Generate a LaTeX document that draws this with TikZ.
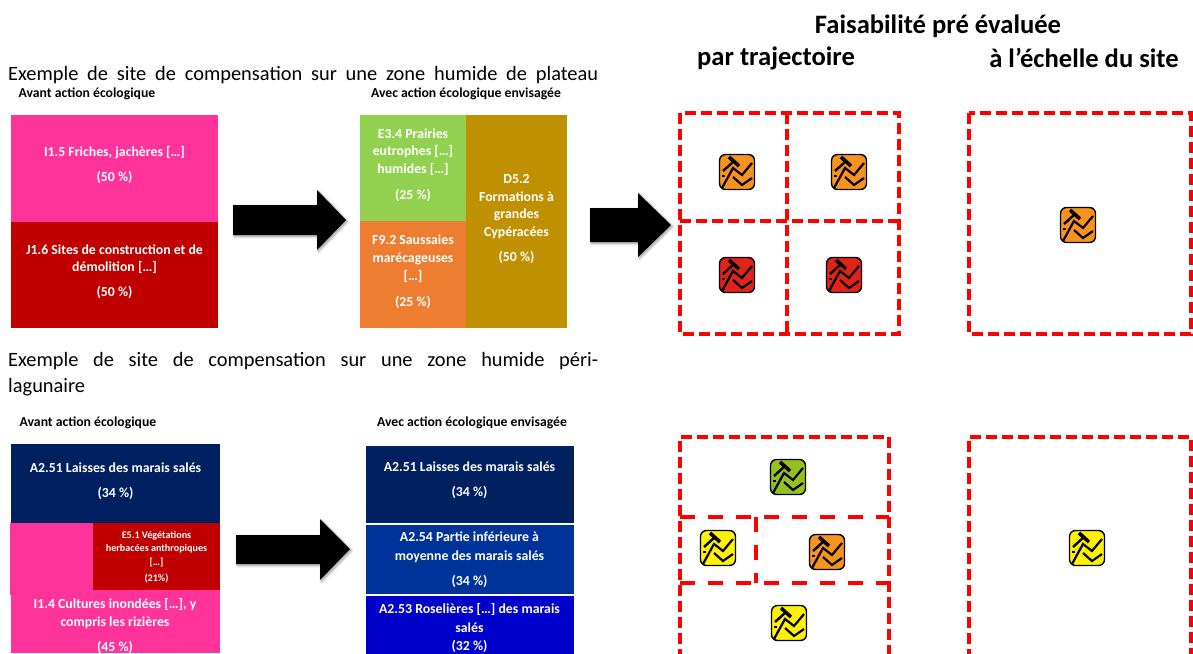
\documentclass[tikz,border=0pt]{standalone}
\usepackage{fontspec}
\setmainfont{Carlito}
\usetikzlibrary{shadows.blur}
\definecolor{pinkz}{HTML}{FF3399}
\definecolor{redz}{HTML}{C00000}
\definecolor{greenz}{HTML}{92D050}
\definecolor{orangez}{HTML}{ED7D31}
\definecolor{goldz}{HTML}{BF9000}
\definecolor{navyz}{HTML}{002060}
\definecolor{bluez}{HTML}{003399}
\definecolor{royalz}{HTML}{0000CC}
\definecolor{icoOrange}{HTML}{F7931E}
\definecolor{icoRed}{HTML}{E2231A}
\definecolor{icoGreen}{HTML}{95C11F}
\definecolor{icoYellow}{HTML}{FFF200}
\definecolor{frameRed}{HTML}{FF0000}
\newcommand{\fullline}[1]{\hbox to 590pt{\spaceskip=4pt plus 1fil\relax #1}}
\tikzset{
  x=1pt,y=-1pt,
  habbox/.style={inner sep=0pt,align=center,text=white,font=\bfseries\fontsize{#1}{#1}\selectfont},
  habbox/.default=13.8,
  zone/.style={draw=frameRed,line width=3.4pt,dash pattern=on 11pt off 5pt},
  midzone/.style={draw=frameRed,line width=3.4pt,dash pattern=on 15pt off 13pt},
  bigarrow/.style={fill=black,blur shadow={shadow blur steps=6,shadow xshift=1.5pt,shadow yshift=-1.5pt,shadow blur radius=2.5pt}},
  coltitle/.style={inner sep=0pt,font=\bfseries\fontsize{26.6}{30}\selectfont},
  subhead/.style={inner sep=0pt,font=\bfseries\fontsize{13.7}{15}\selectfont},
  bodytext/.style={inner sep=0pt,anchor=north west,text width=590pt,align=left,font=\fontsize{20.4}{26}\selectfont},
  pics/trend/.style={code={
    \draw[fill=#1,line width=1.4pt,rounded corners=6pt] (-17.5,-17.5) rectangle (17.5,17.5);
    \draw[line width=2.2pt,line join=miter] (-15,16) -- (-4,-4) -- (5,3) -- (15,-9);
    \draw[line width=2.2pt] (-4,5) -- (5,13) -- (15,6);
    \draw[line width=2.4pt] (-14,-1) -- (-3,-11);
    \draw[line width=3.6pt] (-8,-15) -- (2,-6);
    \draw[line width=2pt] (-15,4) -- (-12,4);
  }}
}
\begin{document}
\begin{tikzpicture}
\useasboundingbox (0,0) rectangle (1193,653);
% titles
\node[coltitle] (t0) at (938,26) {Faisabilité pré évaluée};
\node[coltitle] (t1) at (776,58) {par trajectoire};
\node[coltitle] (t2) at (1084,58) {à l’échelle du site};
\node[bodytext] (b1) at (8,66) {\fullline{Exemple de site de compensation sur une zone humide de plateau}};
\node[bodytext] (b2) at (8,352) {\fullline{Exemple de site de compensation sur une zone humide péri-}\\lagunaire};
\node[subhead] (s1) at (87,94) {Avant action écologique};
\node[subhead] (s2) at (466,94) {Avec action écologique envisagée};
\node[subhead] (s3) at (88,423) {Avant action écologique};
\node[subhead] (s4) at (472,423) {Avec action écologique envisagée};
% upper left
\fill[pinkz] (11,115) rectangle (218,222);
\node[habbox] (a1) at (114.5,165) {I1.5 Friches, jachères […]\\[11pt](50 \%)};
\fill[redz] (11,222) rectangle (218,328);
\node[habbox] (a2) at (114.5,271.5) {J1.6 Sites de construction et de\\[4pt]démolition […]\\[11pt](50 \%)};
\fill[greenz] (360,115) rectangle (466,221);
\node[habbox] (a3) at (413,165) {E3.4 Prairies\\[4pt]eutrophes […]\\[4pt]humides […]\\[12pt](25 \%)};
\fill[orangez] (360,221) rectangle (466,328);
\node[habbox] (a4) at (413,271.5) {F9.2 Saussaies\\[4pt]marécageuses\\[4.5pt][…]\\[11.5pt](25 \%)};
\fill[goldz] (466,115) rectangle (567,328);
\node[habbox] (a5) at (516.5,219) {D5.2\\[4pt]Formations à\\[4pt]grandes\\[4pt]Cypéracées\\[11pt](50 \%)};
% lower left
\fill[navyz] (11,444) rectangle (220,523);
\node[habbox] (c1) at (115.5,481) {A2.51 Laisses des marais salés\\[11pt](34 \%)};
\fill[pinkz] (10,523) rectangle (93,595);
\fill[pinkz] (11,590) rectangle (220,653);
\fill[redz] (93,523) rectangle (220,590);
\node[habbox=10.1] (c2) at (156.5,557) {E5.1 Végétations\\[3pt]herbacées anthropiques\\[3.5pt][…]\\[6pt](21\%)};
\node[habbox] (c3) at (115,626) {I1.4 Cultures inondées […], y\\[4pt]compris les rizières\\[11pt](45 \%)};
\path[fill=navyz,draw=white] (365,445) rectangle (574,523);
\node[habbox] (d1) at (469.5,480) {A2.51 Laisses des marais salés\\[11pt](34 \%)};
\path[fill=bluez,draw=white] (365,524) rectangle (574,594);
\node[habbox] (d2) at (469.5,560) {A2.54 Partie inférieure à\\[4.5pt]moyenne des marais salés\\[12pt](34 \%)};
\path[fill=royalz,draw=white] (365,595) rectangle (574,654);
\node[habbox] (d3) at (469.5,628) {A2.53 Roselières […] des marais\\[5pt]salés\\[4pt](32 \%)};
% arrows
\path[bigarrow] (233,205) -- (317,205) -- (317,190) -- (346,220) -- (317,250) -- (317,235) -- (233,235) -- cycle;
\path[bigarrow] (590,208) -- (638,208) -- (638,193) -- (671,225) -- (638,257) -- (638,242) -- (590,242) -- cycle;
\path[bigarrow] (236,535) -- (320,535) -- (320,519) -- (350,549) -- (320,580) -- (320,564) -- (236,564) -- cycle;
% zones upper
\draw[zone] (680,113) rectangle (899,334);
\draw[zone] (787,113) -- (787,334);
\draw[zone] (680,221) -- (899,221);
\draw[zone] (969,113) rectangle (1191,334);
% zones lower
\draw[zone] (680,660) -- (680,437) -- (889,437) -- (889,660);
\draw[midzone] (680,517) -- (889,517);
\draw[midzone] (756,517) -- (756,583);
\draw[midzone] (680,583) -- (889,583);
\draw[zone] (969,660) -- (969,437) -- (1191,437) -- (1191,660);
% icons
\pic at (737,172) {trend=icoOrange};
\pic at (849,172) {trend=icoOrange};
\pic at (737,275) {trend=icoRed};
\pic at (844,275) {trend=icoRed};
\pic at (1078,225) {trend=icoOrange};
\pic at (788,477) {trend=icoGreen};
\pic at (718,548) {trend=icoYellow};
\pic at (827,552) {trend=icoOrange};
\pic at (789,623) {trend=icoYellow};
\pic at (1087,548) {trend=icoYellow};
\end{tikzpicture}
\end{document}
